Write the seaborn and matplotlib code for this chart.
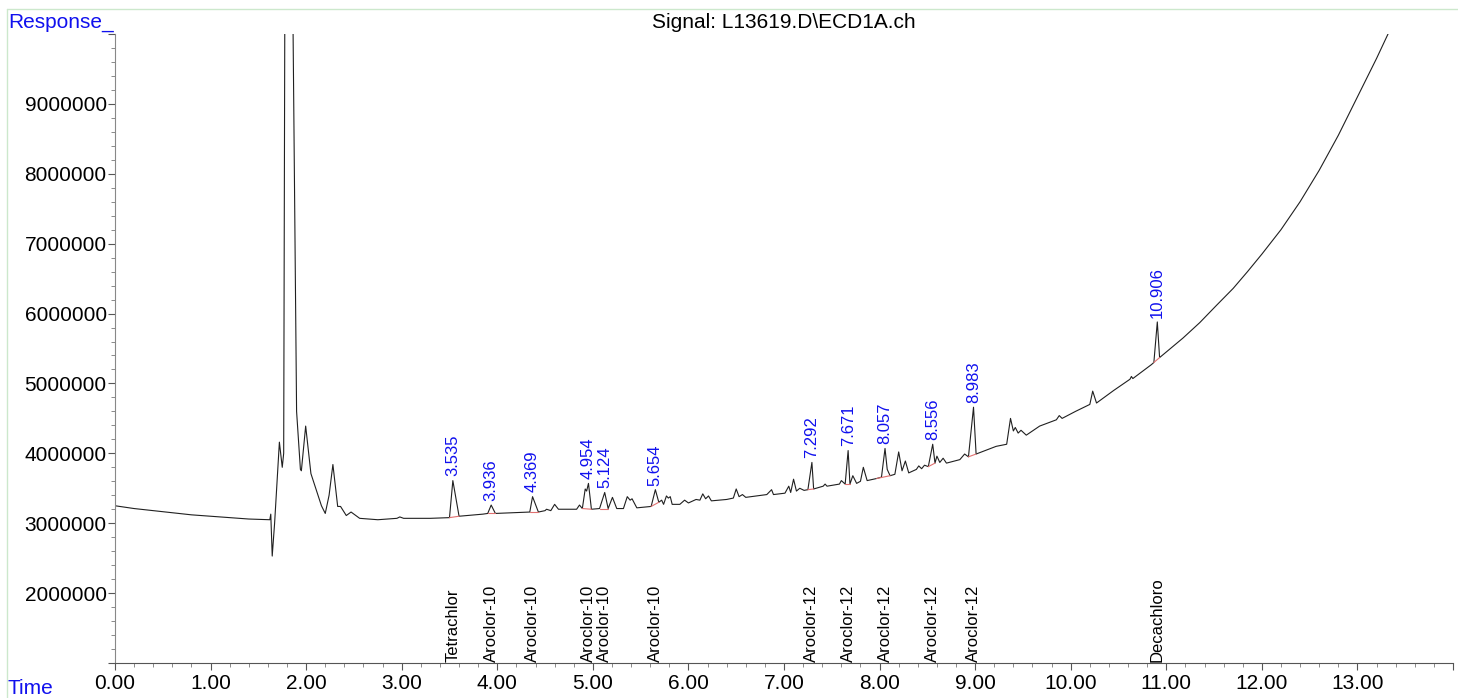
import numpy as np
import pandas as pd
import seaborn as sns
import matplotlib.pyplot as plt
from matplotlib.lines import Line2D
from matplotlib.ticker import MultipleLocator, FuncFormatter

# ----------------------------------------------------------
# Data
# ----------------------------------------------------------

trace_time = [
    0.00, 0.20, 0.40, 0.60, 0.80, 1.00, 1.20, 1.40, 1.60, 1.62, 1.63, 1.645,
    1.67, 1.72, 1.75, 1.765, 1.78, 1.815, 1.85, 1.90, 1.94, 1.95, 1.995, 2.05,
    2.10, 2.16, 2.20, 2.24, 2.28, 2.33, 2.36, 2.42, 2.47, 2.56, 2.75, 2.95,
    2.98, 3.02, 3.30, 3.50, 3.535, 3.60, 3.85, 3.90, 3.936, 3.98, 4.34, 4.369,
    4.43, 4.50, 4.515, 4.56, 4.60, 4.64, 4.83, 4.86, 4.89, 4.92, 4.935, 4.954,
    4.985, 5.07, 5.124, 5.16, 5.205, 5.25, 5.32, 5.36, 5.39, 5.41, 5.46, 5.61,
    5.654, 5.69, 5.72, 5.74, 5.77, 5.79, 5.81, 5.83, 5.91, 5.96, 6.00, 6.08,
    6.12, 6.15, 6.18, 6.21, 6.24, 6.40, 6.47, 6.50, 6.53, 6.565, 6.60, 6.82,
    6.87, 6.89, 7.01, 7.05, 7.07, 7.10, 7.13, 7.165, 7.21, 7.25, 7.292, 7.31,
    7.41, 7.43, 7.45, 7.58, 7.60, 7.64, 7.671, 7.69, 7.72, 7.76, 7.80, 7.83,
    7.87, 7.97, 8.02, 8.057, 8.08, 8.11, 8.16, 8.20, 8.235, 8.27, 8.305, 8.385,
    8.41, 8.44, 8.47, 8.51, 8.556, 8.58, 8.60, 8.63, 8.665, 8.70, 8.84, 8.89,
    8.93, 8.983, 9.01, 9.22, 9.33, 9.37, 9.40, 9.42, 9.45, 9.48, 9.535, 9.675,
    9.85, 9.88, 9.91, 10.05, 10.20, 10.23, 10.27, 10.45, 10.62, 10.635, 10.65,
    10.845, 10.87, 10.906, 10.93, 11.175, 11.35, 11.52, 11.70, 11.85, 12.00,
    12.20, 12.40, 12.60, 12.80, 13.00, 13.20, 13.32, 13.40,
]

trace_resp = [
    3.25e6, 3.21e6, 3.18e6, 3.15e6, 3.12e6, 3.10e6, 3.08e6, 3.06e6, 3.05e6, 3.05e6, 3.13e6, 2.53e6,
    3.00e6, 4.16e6, 3.80e6, 4.00e6, 1.20e7, 3.00e7, 1.20e7, 4.60e6, 3.77e6, 3.75e6, 4.39e6, 3.71e6,
    3.50e6, 3.25e6, 3.14e6, 3.40e6, 3.84e6, 3.24e6, 3.24e6, 3.11e6, 3.16e6, 3.07e6, 3.05e6, 3.07e6,
    3.09e6, 3.07e6, 3.07e6, 3.08e6, 3.61e6, 3.10e6, 3.13e6, 3.14e6, 3.26e6, 3.14e6, 3.16e6, 3.38e6,
    3.16e6, 3.18e6, 3.20e6, 3.18e6, 3.27e6, 3.20e6, 3.20e6, 3.26e6, 3.21e6, 3.49e6, 3.46e6, 3.57e6,
    3.20e6, 3.21e6, 3.44e6, 3.21e6, 3.37e6, 3.21e6, 3.21e6, 3.38e6, 3.33e6, 3.35e6, 3.22e6, 3.24e6,
    3.48e6, 3.30e6, 3.33e6, 3.27e6, 3.39e6, 3.36e6, 3.38e6, 3.27e6, 3.27e6, 3.33e6, 3.29e6, 3.34e6,
    3.33e6, 3.42e6, 3.35e6, 3.39e6, 3.32e6, 3.34e6, 3.36e6, 3.49e6, 3.38e6, 3.41e6, 3.37e6, 3.41e6,
    3.48e6, 3.41e6, 3.43e6, 3.53e6, 3.44e6, 3.63e6, 3.46e6, 3.50e6, 3.47e6, 3.48e6, 3.87e6, 3.49e6,
    3.53e6, 3.56e6, 3.53e6, 3.56e6, 3.61e6, 3.56e6, 4.04e6, 3.56e6, 3.68e6, 3.57e6, 3.60e6, 3.80e6,
    3.61e6, 3.64e6, 3.66e6, 4.07e6, 3.77e6, 3.68e6, 3.70e6, 4.02e6, 3.75e6, 3.89e6, 3.72e6, 3.77e6,
    3.82e6, 3.78e6, 3.83e6, 3.81e6, 4.13e6, 3.86e6, 3.96e6, 3.87e6, 3.93e6, 3.86e6, 3.91e6, 3.99e6,
    3.95e6, 4.66e6, 3.99e6, 4.10e6, 4.13e6, 4.50e6, 4.32e6, 4.37e6, 4.29e6, 4.33e6, 4.26e6, 4.39e6,
    4.48e6, 4.54e6, 4.50e6, 4.60e6, 4.70e6, 4.89e6, 4.72e6, 4.90e6, 5.06e6, 5.10e6, 5.07e6,
    5.27e6, 5.30e6, 5.88e6, 5.37e6, 5.65e6, 5.87e6, 6.11e6, 6.36e6, 6.60e6, 6.85e6,
    7.20e6, 7.60e6, 8.05e6, 8.55e6, 9.10e6, 9.65e6, 1.00e7, 1.03e7,
]

peak_rt = [3.535, 3.936, 4.369, 4.954, 5.124, 5.654, 7.292, 7.671, 8.057, 8.556, 8.983, 10.906]
peak_text = ["3.535", "3.936", "4.369", "4.954", "5.124", "5.654",
             "7.292", "7.671", "8.057", "8.556", "8.983", "10.906"]
compound = ["Tetrachlor", "Aroclor-10", "Aroclor-10", "Aroclor-10", "Aroclor-10", "Aroclor-10",
            "Aroclor-12", "Aroclor-12", "Aroclor-12", "Aroclor-12", "Aroclor-12", "Decachloro"]

# integration baselines under the labelled peaks
base_start = [3.50, 3.90, 4.34, 4.89, 5.07, 5.61, 7.25, 7.64, 7.97, 8.51, 8.93, 10.87]
base_end = [3.60, 3.98, 4.43, 4.985, 5.16, 5.69, 7.31, 7.69, 8.11, 8.58, 9.01, 10.93]

df = pd.DataFrame({"time": trace_time, "resp": trace_resp})

# ----------------------------------------------------------
# Plot
# ----------------------------------------------------------

sns.set_style("ticks")
plt.rcParams["font.family"] = ["Liberation Sans", "DejaVu Sans"]

fig = plt.figure(figsize=(14.58, 6.98), dpi=100)
ax = fig.add_axes([115 / 1458, 35 / 698, 1338 / 1458, 629 / 698])

sns.lineplot(data=df, x="time", y="resp", sort=False, estimator=None,
             color="#202020", linewidth=0.8, ax=ax)

for s, e in zip(base_start, base_end):
    ys = np.interp([s, e], trace_time, trace_resp)
    ax.plot([s, e], ys, color="#e07070", linewidth=0.8)

for rt, txt, name in zip(peak_rt, peak_text, compound):
    h = np.interp(rt, trace_time, trace_resp)
    ax.annotate(txt, xy=(rt, h), xytext=(0, 3), textcoords="offset points",
                rotation=90, ha="center", va="bottom", fontsize=12, color="#1010ee")
    ax.text(rt, 1.01e6, name, rotation=90, ha="center", va="bottom",
            fontsize=12, color="black")

ax.set_xlim(0, 14)
ax.set_ylim(1.0e6, 1.0e7)
ax.set_xlabel("")
ax.set_ylabel("")

ax.xaxis.set_major_locator(MultipleLocator(1))
ax.xaxis.set_minor_locator(MultipleLocator(0.2))
ax.xaxis.set_major_formatter(FuncFormatter(lambda v, p: "" if v > 13.5 else f"{v:.2f}"))
ax.yaxis.set_major_locator(MultipleLocator(1e6))
ax.yaxis.set_minor_locator(MultipleLocator(2e5))
ax.yaxis.set_major_formatter(
    FuncFormatter(lambda v, p: "" if (v < 1.5e6 or v > 9.5e6) else f"{int(v)}"))

ax.tick_params(axis="both", which="major", labelsize=15, colors="#555555",
               labelcolor="black", length=5, width=0.8)
ax.tick_params(axis="both", which="minor", colors="#777777", length=3, width=0.6)
ax.tick_params(axis="x", which="major", pad=3)
ax.tick_params(axis="y", which="major", pad=1)

for side in ["top", "right"]:
    ax.spines[side].set_visible(False)
ax.spines["left"].set_color("#888888")
ax.spines["bottom"].set_color("#555555")
ax.spines["left"].set_linewidth(0.8)
ax.spines["bottom"].set_linewidth(0.8)

# frame and header texts
fig.add_artist(Line2D([7 / 1458, 1], [1 - 9 / 698, 1 - 9 / 698], color="#cce8cc", linewidth=1))
fig.add_artist(Line2D([7 / 1458, 7 / 1458], [0, 1 - 9 / 698], color="#cce8cc", linewidth=1))

fig.text(8 / 1458, 1 - 22 / 698, "Response_", color="#1010ee", fontsize=15, va="center", ha="left")
fig.text(8 / 1458, 1 - 688 / 698, "Time", color="#1010ee", fontsize=15, va="center", ha="left")
fig.text(784 / 1458, 1 - 22 / 698, "Signal: L13619.D\\ECD1A.ch", color="black",
         fontsize=15, va="center", ha="center")

fig.savefig("out.png", dpi=100)
